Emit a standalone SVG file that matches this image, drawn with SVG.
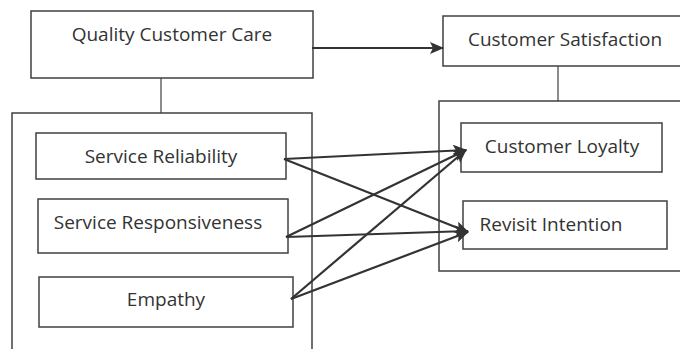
<svg xmlns="http://www.w3.org/2000/svg" width="680" height="349" viewBox="0 0 680 349">
<defs>
<style>
.box{fill:#fff;stroke:#404040;stroke-width:1.5}
.frame{fill:none;stroke:#404040;stroke-width:1.5}
.ln{stroke:#404040;stroke-width:1.2;fill:none}
.arr{stroke:#333;stroke-width:2.2;fill:none;marker-end:url(#ah)}
text{font-family:"Open Sans","Liberation Sans",sans-serif;font-size:19px;fill:#333;text-anchor:middle}
</style>
<marker id="ah" markerWidth="14" markerHeight="12" refX="13" refY="6" orient="auto" markerUnits="userSpaceOnUse">
<path d="M0,0 L14,6 L0,12 L3,6 Z" fill="#333"/>
</marker>
</defs>
<rect width="680" height="349" fill="#fff"/>
<g id="frames">
<path class="frame" d="M12,349 V113 H312 V349"/>
<path class="frame" d="M681,101 H439 V271 H681"/>
</g>
<g id="qcc"><rect class="box" x="31" y="11" width="282" height="67"/><text x="172" y="41">Quality Customer Care</text></g>
<g id="cs"><path class="box" d="M681,16 H443 V66 H681"/><text x="565" y="46">Customer Satisfaction</text></g>
<g id="sr"><rect class="box" x="36" y="133" width="250" height="46"/><text x="161" y="163">Service Reliability</text></g>
<g id="srp"><rect class="box" x="38" y="199" width="250" height="54"/><text x="158" y="229">Service Responsiveness</text></g>
<g id="emp"><rect class="box" x="39" y="277" width="254" height="50"/><text x="166" y="306">Empathy</text></g>
<g id="cl"><rect class="box" x="461" y="123" width="201" height="49"/><text x="562" y="153">Customer Loyalty</text></g>
<g id="ri"><rect class="box" x="463" y="201" width="204" height="48"/><text x="551" y="231">Revisit Intention</text></g>
<g id="connectors">
<line class="ln" x1="161" y1="78" x2="161" y2="113"/>
<line class="ln" x1="558" y1="66" x2="558" y2="101"/>
<line class="arr" x1="312" y1="48" x2="443" y2="48"/>
<line class="arr" x1="284" y1="159" x2="466" y2="150"/>
<line class="arr" x1="284" y1="159" x2="468" y2="232"/>
<line class="arr" x1="286" y1="237" x2="466" y2="150"/>
<line class="arr" x1="286" y1="237" x2="468" y2="231"/>
<line class="arr" x1="291" y1="299" x2="466" y2="150"/>
<line class="arr" x1="291" y1="299" x2="468" y2="232"/>
</g>
</svg>
